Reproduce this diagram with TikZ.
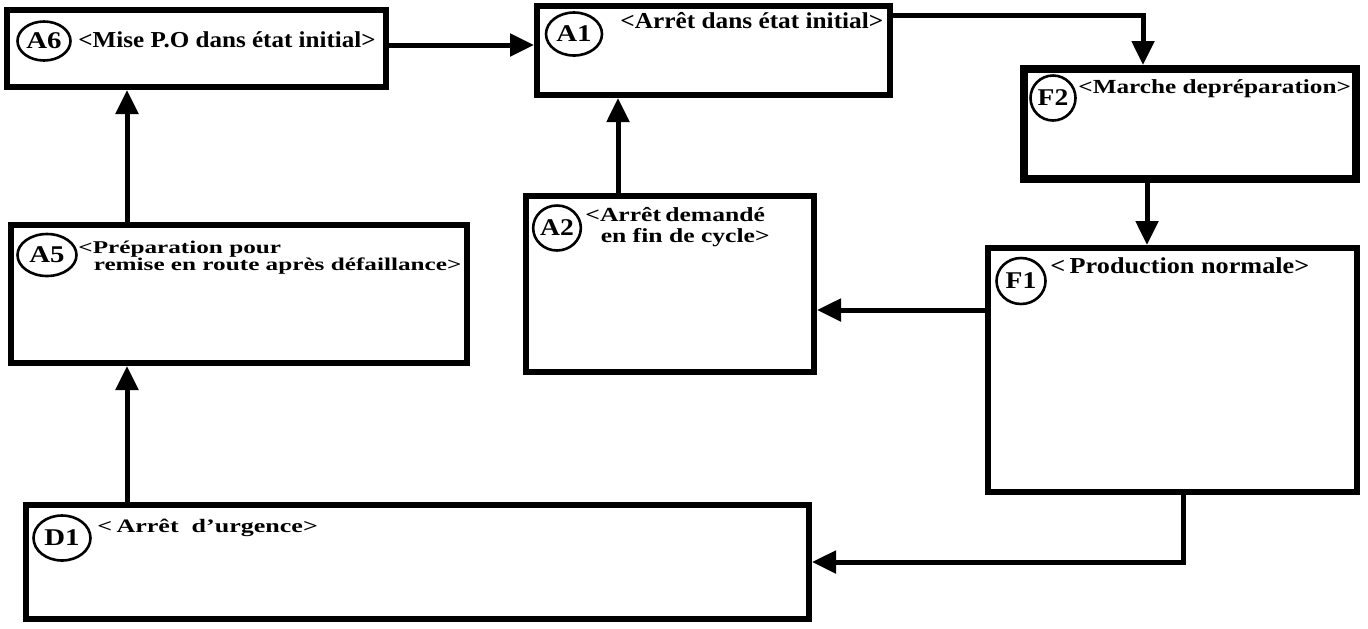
\documentclass[tikz,border=0pt]{standalone}
\usepackage{fontspec}
\setmainfont{Liberation Serif}
\usetikzlibrary{arrows.meta,shapes.geometric}
\newcommand{\wide}[2]{\scalebox{#1}[1]{#2}}
\begin{document}
\begin{tikzpicture}[x=0.5pt,y=-0.5pt,
  box/.style={draw, line width=3pt, rectangle, inner sep=0pt},
  boxthick/.style={box, line width=4pt},
  tag/.style={draw, ellipse, line width=1.3pt, inner sep=0pt, font=\fontsize{12}{12}\selectfont\bfseries},
  lbl/.style={anchor=base west, inner sep=0pt, align=left},
  arr/.style={line width=2.5pt, -{Triangle[length=12pt,width=11pt]}}
]
\useasboundingbox (0,0) rectangle (1368,628);

% boxes
\node[box, minimum width=189.5pt, minimum height=38.5pt] (A6) at (196.5,48.5) {};
\node[box, minimum width=176.5pt, minimum height=44.5pt] (A1) at (713.5,50.5) {};
\node[boxthick, minimum width=166pt, minimum height=55pt] (F2) at (1190,124) {};
\node[box, minimum width=228pt, minimum height=69pt] (A5) at (239,294) {};
\node[box, minimum width=144pt, minimum height=88pt] (A2) at (670,284) {};
\node[box, minimum width=184.5pt, minimum height=122pt] (F1) at (1172.5,370) {};
\node[box, minimum width=391.5pt, minimum height=57pt] (D1) at (417.5,562) {};

% tags
\node[tag, minimum width=26.5pt, minimum height=19.5pt] (A6c) at (44,41) {\wide{1.2}{A6}};
\node[tag, minimum width=28pt, minimum height=21.5pt] (A1c) at (574,34) {\wide{1.2}{A1}};
\node[tag, minimum width=22.5pt, minimum height=22.5pt] (F2c) at (1053,98) {\wide{1.15}{F2}};
\node[tag, minimum width=29.5pt, minimum height=21pt] (A5c) at (47,255) {\wide{1.2}{A5}};
\node[tag, minimum width=23pt, minimum height=22.5pt] (A2c) at (557,228) {\wide{1.15}{A2}};
\node[tag, minimum width=24.5pt, minimum height=23pt] (F1c) at (1021,281) {\wide{1.15}{F1}};
\node[tag, minimum width=28.5pt, minimum height=22.5pt] (D1c) at (62,538) {\wide{1.2}{D1}};

% labels
\node[lbl, font=\fontsize{11.4}{12}\selectfont\bfseries] (A6t) at (78,47) {\wide{1.1}{<Mise P.O dans état initial>}};
\node[lbl, font=\fontsize{11.4}{12}\selectfont\bfseries] (A1t) at (620,28) {\wide{1.11}{<Arrêt dans état initial>}};
\node[lbl, font=\fontsize{10}{12}\selectfont\bfseries] (F2t) at (1078,93) {\wide{1.26}{<Marche depréparation>}};
\node[lbl, font=\fontsize{9}{8.5}\selectfont\bfseries] (A5t) at (78,253) {\wide{1.4}{\begin{tabular}[t]{@{}l@{}}<Préparation pour\\\hspace*{5.5pt}remise en route après défaillance>\end{tabular}}};
\node[lbl, font=\fontsize{10}{10.5}\selectfont\bfseries] (A2t) at (585,221) {\wide{1.28}{\begin{tabular}[t]{@{}l@{}}<Arrêt\,demandé\\\hspace*{6pt}en fin de cycle>\end{tabular}}};
\node[lbl, font=\fontsize{11.4}{12}\selectfont\bfseries] (F1t) at (1050,273) {\wide{1.15}{<\,Production normale>}};
\node[lbl, font=\fontsize{9.5}{12}\selectfont\bfseries] (D1t) at (97,532) {\wide{1.37}{<\,Arrêt\ \ d’urgence>}};

% connectors
\draw[arr] ([yshift=1.75pt]A6.east) -- ([yshift=1.75pt]A6.east -| A1.west);
\draw[arr] ([yshift=17.75pt]A1.east) -| ([xshift=-23.5pt]F2.north);
\draw[arr] ([xshift=-21.5pt]F2.south) -- ([xshift=-21.5pt]F2.south |- F1.north);
\draw[arr] ([yshift=30pt]F1.west) -- ([yshift=30pt]F1.west -| A2.east);
\draw[arr] ([xshift=-26pt]A2.north) -- ([xshift=-26pt]A2.north |- A1.south);
\draw[arr] ([xshift=-56pt]A5.north) -- ([xshift=-56pt]A5.north |- A6.south);
\draw[arr] ([xshift=-145.25pt]D1.north) -- ([xshift=-145.25pt]D1.north |- A5.south);
\draw[arr] ([xshift=5.25pt]F1.south) |- (D1.east);
\end{tikzpicture}
\end{document}
